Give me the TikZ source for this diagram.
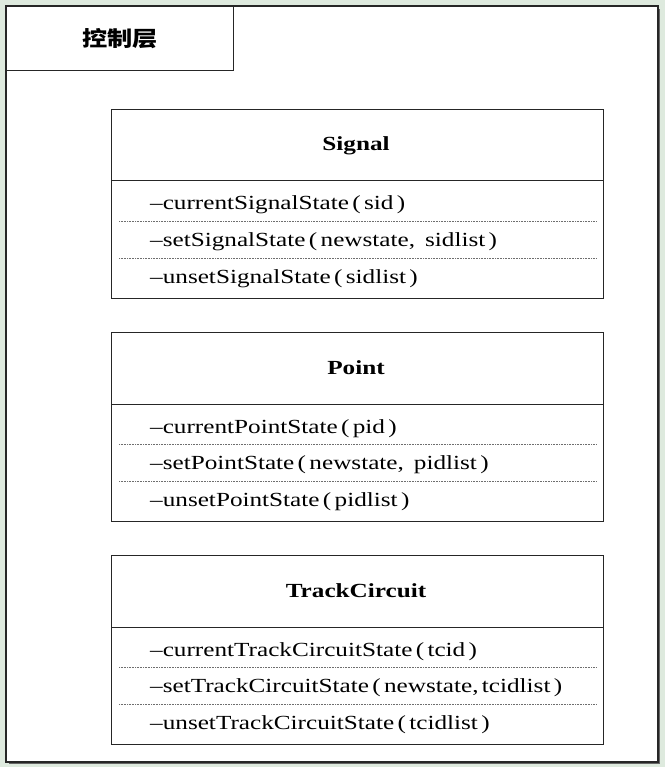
\documentclass[tikz,border=0pt]{standalone}
\usepackage{fontspec}
\setmainfont[FakeStretch=1.26]{Liberation Serif}
\newfontfamily\cjk[FakeStretch=1.2]{Noto Sans CJK SC}
\definecolor{bgc}{RGB}{222,234,222}
\definecolor{sepc}{RGB}{110,110,110}
\begin{document}
\begin{tikzpicture}[x=1pt,y=-1pt,
  frame/.style={draw=black!85,line width=1.3pt},
  cls/.style={draw=black!85,line width=1.2pt,fill=white},
  sepline/.style={draw=black!85,line width=1pt},
  dotsep/.style={draw=sepc,line width=0.8pt,dash pattern=on 1pt off 0.6pt},
  title/.style={font=\fontsize{20}{24}\selectfont\bfseries,anchor=base,inner sep=0pt},
  op/.style={font=\fontsize{20}{24}\selectfont,anchor=base west,inner sep=0pt}]
\useasboundingbox (0,0) rectangle (665,767);
\fill[bgc] (0,0) rectangle (665,767);
% outer frame with shadow
\fill[black!60] (9,9) rectangle (660,764);
\draw[frame,fill=white] (6,6) rectangle (658,762);
\node[draw=black!85,line width=1.2pt,fill=white,minimum width=227pt,minimum height=64pt,anchor=north west,inner sep=0pt,
  font=\cjk\bfseries\fontsize{21}{24}\selectfont] (layer) at (6,6) {控制层};
% class boxes
\foreach \nm/\ttl/\yt/\a/\b/\c in {
  sig/Signal/109/{–currentSignalState\,(\,sid\,)}/{–setSignalState\,(\,newstate,\enspace sidlist\,)}/{–unsetSignalState\,(\,sidlist\,)},
  pt/Point/332/{–currentPointState\,(\,pid\,)}/{–setPointState\,(\,newstate,\enspace pidlist\,)}/{–unsetPointState\,(\,pidlist\,)},
  tc/TrackCircuit/555/{–currentTrackCircuitState\,(\,tcid\,)}/{–setTrackCircuitState\,(\,newstate,\,tcidlist\,)}/{–unsetTrackCircuitState\,(\,tcidlist\,)}}{
  \node[cls,anchor=north west,minimum width=492pt,minimum height=189pt,inner sep=0pt] (\nm) at (111,\yt) {};
  \coordinate (\nm s1) at (111,\yt+72);
  \coordinate (\nm s1e) at (603,\yt+72);
  \draw[sepline] (\nm s1) -- (\nm s1e);
  \coordinate (\nm d1) at (119,\yt+112);
  \coordinate (\nm d1e) at (596,\yt+112);
  \coordinate (\nm d2) at (119,\yt+149);
  \coordinate (\nm d2e) at (596,\yt+149);
  \draw[dotsep] (\nm d1) -- (\nm d1e);
  \draw[dotsep] (\nm d2) -- (\nm d2e);
  \node[title] (\nm t) at (356,\yt+42) {\ttl};
  \node[op] (\nm a) at (150,\yt+101) {\a};
  \node[op] (\nm b) at (150,\yt+137) {\b};
  \node[op] (\nm c) at (150,\yt+174) {\c};
}
\end{tikzpicture}
\end{document}
